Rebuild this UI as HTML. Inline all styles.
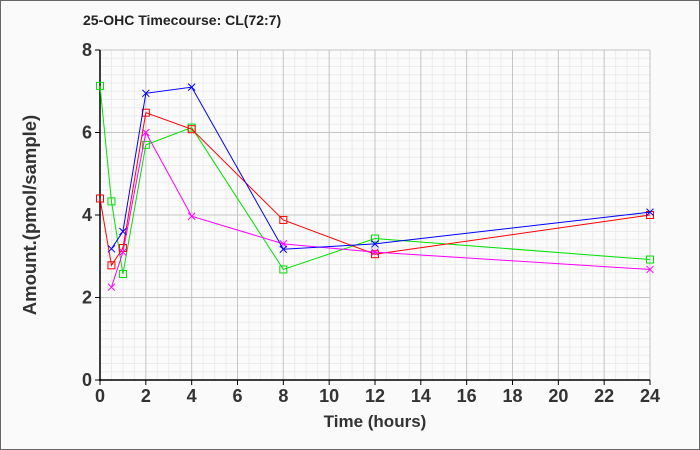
<!DOCTYPE html>
<html><head><meta charset="utf-8"><style>
html,body{margin:0;padding:0;background:#fafafa;}
svg{display:block;font-family:"Liberation Sans",sans-serif;}
</style></head><body>
<svg width="700" height="450" viewBox="0 0 700 450" xmlns="http://www.w3.org/2000/svg">
<rect x="0.5" y="0.5" width="699" height="449" fill="#fafafa" stroke="#666" stroke-width="1"/>
<text x="83" y="25" font-size="14" font-weight="bold" fill="#222">25-OHC Timecourse: CL(72:7)</text>
<rect x="100" y="50" width="550" height="330" fill="#fbfbfb"/>
<g id="grid"></g>
<g id="axes"></g>
<g id="series"></g>
<text x="375" y="427" font-size="17" font-weight="bold" fill="#333" text-anchor="middle">Time (hours)</text>
<text transform="translate(36,215) rotate(-90)" font-size="18.5" font-weight="bold" fill="#333" text-anchor="middle">Amount.(pmol/sample)</text>
</svg>
<script>
const NS="http://www.w3.org/2000/svg";
const X=t=>100+t*550/24, Y=v=>380-v*41.25;
function el(p,n,a){const e=document.createElementNS(NS,n);for(const k in a)e.setAttribute(k,a[k]);p.appendChild(e);return e;}
const g=document.getElementById('grid'),ax=document.getElementById('axes'),s=document.getElementById('series');
for(let t=0.5;t<=24;t+=0.5){if(Math.abs(t/2-Math.round(t/2))<1e-6)continue;el(g,'line',{x1:X(t),x2:X(t),y1:50,y2:380,stroke:'#ececec'});}
for(let v=0.2;v<8;v+=0.2){if(Math.abs(v/2-Math.round(v/2))<1e-6)continue;el(g,'line',{x1:100,x2:650,y1:Y(v),y2:Y(v),stroke:'#ececec'});}
for(let t=2;t<=24;t+=2)el(g,'line',{x1:X(t),x2:X(t),y1:50,y2:380,stroke:'#c4c4c4'});
for(let v=2;v<=8;v+=2)el(g,'line',{x1:100,x2:650,y1:Y(v),y2:Y(v),stroke:'#c4c4c4'});
el(ax,'line',{x1:100,x2:100,y1:50,y2:381,stroke:'#000','stroke-width':1.5});
el(ax,'line',{x1:99,x2:650,y1:380,y2:380,stroke:'#000','stroke-width':1.5});
for(let t=0;t<=24;t+=2){el(ax,'line',{x1:X(t),x2:X(t),y1:380,y2:385,stroke:'#000'});const e=el(ax,'text',{x:X(t),y:402,'font-size':18,'font-weight':'bold',fill:'#333','text-anchor':'middle'});e.textContent=t;}
for(let v=0;v<=8;v+=2){el(ax,'line',{x1:95,x2:100,y1:Y(v),y2:Y(v),stroke:'#000'});const e=el(ax,'text',{x:92,y:Y(v)+6,'font-size':18,'font-weight':'bold',fill:'#333','text-anchor':'end'});e.textContent=v;}
const T=[0,0.5,1,2,4,8,12,24];
const data=[
 {c:'#00e000',m:'s',v:[7.13,4.33,2.57,5.7,6.12,2.68,3.43,2.92]},
 {c:'#ff0000',m:'s',v:[4.4,2.78,3.2,6.48,6.08,3.88,3.05,4.0]},
 {c:'#ff00ff',m:'x',t:T.slice(1),v:[2.25,3.1,6.0,3.97,3.3,3.1,2.68]},
 {c:'#0000ff',m:'x',t:T.slice(1),v:[3.18,3.6,6.95,7.1,3.17,3.3,4.07]},
];
data.forEach(d=>{const ts=d.t||T;const pts=ts.map((t,i)=>X(t)+','+Y(d.v[i])).join(' ');
 el(s,'polyline',{points:pts,fill:'none',stroke:d.c,'stroke-width':1});
 ts.forEach((t,i)=>{const x=X(t),y=Y(d.v[i]);
  if(d.m=='s')el(s,'rect',{x:x-3.5,y:y-3.5,width:7,height:7,fill:'none',stroke:d.c});
  else{el(s,'line',{x1:x-3.5,y1:y-3.5,x2:x+3.5,y2:y+3.5,stroke:d.c});el(s,'line',{x1:x-3.5,y1:y+3.5,x2:x+3.5,y2:y-3.5,stroke:d.c});}
 });});
</script>
</body></html>
